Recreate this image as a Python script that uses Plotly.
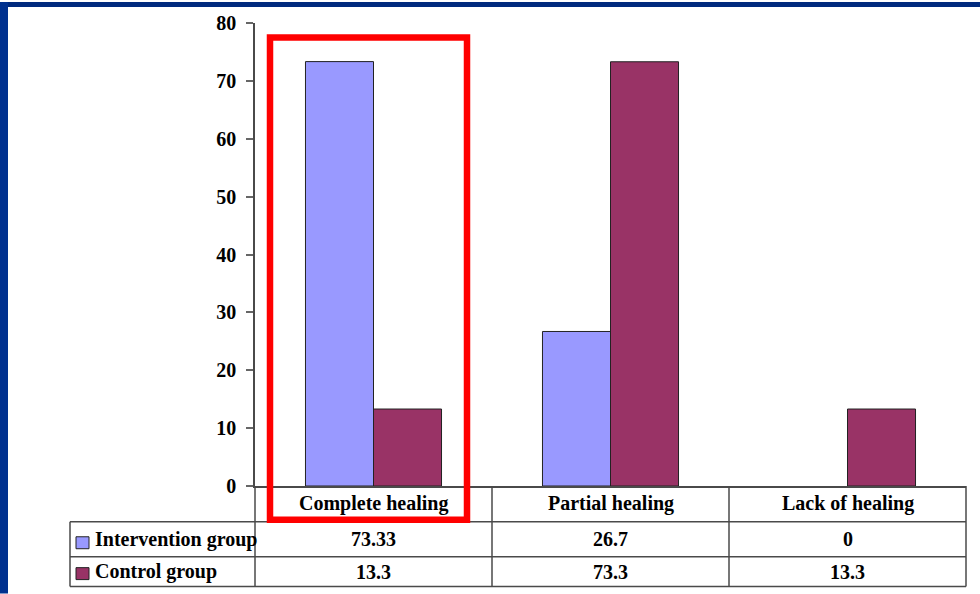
import plotly.graph_objects as go

# Healing outcome (%) by group
categories = ["Complete healing", "Partial healing", "Lack of healing"]
series_names = ["Intervention group", "Control group"]
intervention = [73.33, 26.7, 0]
control = [13.3, 73.3, 13.3]
series_colors = ["#9999FF", "#993366"]
y_ticks = [0, 10, 20, 30, 40, 50, 60, 70, 80]

W, H = 980, 594
L, R, T, B = 255, 966, 21, 486          # plot area edges in pixels
PW, PH = R - L, B - T

def px(x):
    return (x - L) / PW

def py(y):
    return (B - y) / PH

FONT = "Liberation Serif, Times New Roman, serif"
GRID = "#4a4a4a"

fig = go.Figure()
for name, vals, col in zip(series_names, [intervention, control], series_colors):
    fig.add_bar(
        x=categories, y=vals, name=name,
        marker=dict(color=col,
                    line=dict(color="#222222",
                              width=[1 if v > 0 else 0 for v in vals])),
        showlegend=False,
    )

shapes = []
annotations = []

def hline(y, x0, x1):
    shapes.append(dict(type="line", xref="paper", yref="paper",
                       x0=px(x0), x1=px(x1), y0=py(y), y1=py(y),
                       line=dict(color=GRID, width=1.5)))

def vline(x, y0, y1, xref="paper"):
    xv = x if xref == "x" else px(x)
    shapes.append(dict(type="line", xref=xref, yref="paper",
                       x0=xv, x1=xv, y0=py(y0), y1=py(y1),
                       line=dict(color=GRID, width=1.5)))

# data table grid below the axis
hline(522, 70, 966)
hline(557, 70, 966)
hline(587, 70, 966)
vline(70, 522, 587)
vline(255, 486, 587)
vline(0.5, 486, 587, xref="x")
vline(1.5, 486, 587, xref="x")
vline(966, 486, 587)

# category headers
for i, c in enumerate(categories):
    annotations.append(dict(x=i, xref="x", y=py(504), yref="paper", text=c,
                            showarrow=False, xanchor="center", yanchor="middle",
                            font=dict(family=FONT, size=20, color="#000", weight="bold")))

# table rows: legend key, series name, values
row_centers = [539.5, 572]
key_boxes = [(537, 549), (568, 580)]
for name, vals, col, yc, (k0, k1) in zip(series_names, [intervention, control],
                                         series_colors, row_centers, key_boxes):
    shapes.append(dict(type="rect", xref="paper", yref="paper",
                       x0=px(76), x1=px(89), y0=py(k0), y1=py(k1),
                       fillcolor=col, line=dict(color="#222222", width=1)))
    annotations.append(dict(x=px(93), xref="paper", y=py(yc), yref="paper", text=name,
                            showarrow=False, xanchor="left", yanchor="middle",
                            font=dict(family=FONT, size=20, color="#000", weight="bold")))
    for i, v in enumerate(vals):
        annotations.append(dict(x=i, xref="x", y=py(yc), yref="paper", text=str(v),
                                showarrow=False, xanchor="center", yanchor="middle",
                                font=dict(family=FONT, size=20, color="#000", weight="bold")))

# highlight box around the first category
shapes.append(dict(type="rect", xref="paper", yref="paper",
                   x0=px(270), x1=px(467), y0=py(520), y1=py(35.5),
                   line=dict(color="#FF0000", width=6.5)))

# slide frame bands
shapes.append(dict(type="rect", xref="paper", yref="paper",
                   x0=px(0), x1=px(W), y0=py(0), y1=py(5),
                   fillcolor="#002A7E", line=dict(width=0)))
shapes.append(dict(type="rect", xref="paper", yref="paper",
                   x0=px(0), x1=px(8), y0=py(0), y1=py(H),
                   fillcolor="#00318F", line=dict(width=0)))

fig.update_layout(
    width=W, height=H,
    margin=dict(l=L, r=W - R, t=T, b=H - B),
    paper_bgcolor="white", plot_bgcolor="white",
    barmode="group", bargap=0.426, bargroupgap=0,
    shapes=shapes, annotations=annotations,
)
fig.update_xaxes(
    range=[-0.5, 2.5], showticklabels=False, ticks="",
    showline=True, linecolor=GRID, linewidth=1.5,
    showgrid=False, zeroline=False,
)
fig.update_yaxes(
    range=[0, 80], tickvals=y_ticks, ticks="outside", ticklen=7,
    tickcolor="#666666", tickwidth=1.5,
    showline=True, linecolor=GRID, linewidth=1.5,
    showgrid=False, zeroline=False,
    ticklabelstandoff=6,
    tickfont=dict(family=FONT, size=20, color="#000", weight="bold"),
)

fig.write_html("out.html")
